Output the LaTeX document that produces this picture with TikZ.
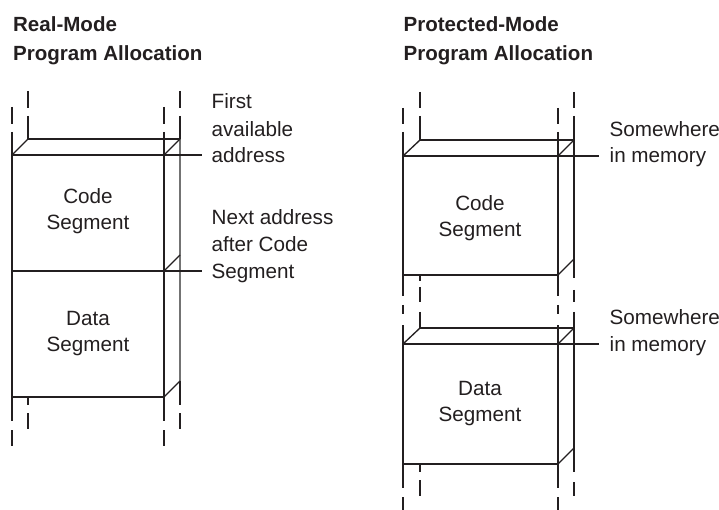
\documentclass[tikz,border=0pt]{standalone}
\usepackage{fontspec}
\setmainfont{Liberation Sans}
\definecolor{ink}{RGB}{35,31,32}

\begin{document}
\begin{tikzpicture}[x=0.75pt,y=0.75pt,yscale=-1,xscale=1,color=ink,line width=1pt,
  lbl/.style={font=\fontsize{15.5}{20.25}\selectfont,inner sep=0pt,align=left,anchor=base west},
  ttl/.style={font=\bfseries\fontsize{15.4}{21.75}\selectfont,inner sep=0pt,align=left,anchor=base west},
  seglbl/.style={font=\fontsize{15.5}{19.5}\selectfont,inner sep=0pt,align=center},
  faint/.style={draw=black!55}]
\useasboundingbox (0,0) rectangle (719,510);

% Titles
\draw (12.5,61) node [ttl] (realttl) {Real-Mode\\Program Allocation};
\draw (403,61) node [ttl] (protttl) {Protected-Mode\\Program Allocation};

% Text Node
\draw (211,163) node [lbl] (firstlbl) {First\\available\\address};
\coordinate (lead1) at (202,155);
% Text Node
\draw (211,278) node [lbl] (nextlbl) {Next address\\after Code\\Segment};
\coordinate (lead2) at (202,271);
% Text Node
\draw (609,163) node [lbl] (somelbl1) {Somewhere\\in memory};
\coordinate (lead3) at (599,156);
% Text Node
\draw (609,351) node [lbl] (somelbl2) {Somewhere\\in memory};
\coordinate (lead4) at (599,344);

% Text Node
\draw (88,211) node [seglbl] (realcode) {Code\\Segment};
\draw (88,334) node [seglbl] (realdata) {Data\\Segment};
\draw (480,218) node [seglbl] (protcode) {Code\\Segment};
\draw (480,404) node [seglbl] (protdata) {Data\\Segment};

%Real mode: front verticals
\draw (12,107) -- (12,124);
\draw (12,132) -- (12,421);
\draw (12,430) -- (12,446);
\draw (164,107) -- (164,124);
\draw (164,132) -- (164,421);
\draw (164,430) -- (164,446);
%Real mode: back left
\draw (28,91) -- (28,108);
\draw (28,116) -- (28,139);
\draw (28,397) -- (28,405);
\draw (28,413) -- (28,429);
%Real mode: back right
\draw (180,91) -- (180,108);
\draw (180,116) -- (180,139);
\draw [faint] (180,139) -- (180,381);
\draw (180,381) -- (180,405);
\draw (180,413) -- (180,429);
%Real mode: top
\draw (28,139) -- (180,139);
\draw (12,155) -- (28,139);
\draw (164,155) -- (180,139);
\draw (12,155) -- (lead1);
%Real mode: code / data boundary
\draw (12,271) -- (lead2);
\draw (164,271) -- (180,255);
%Real mode: bottom
\draw (12,397) -- (164,397);
\draw (164,397) -- (180,381);

%Protected mode: front verticals
\draw (403,108) -- (403,124);
\draw (403,132) -- (403,296);
\draw (403,305) -- (403,314);
\draw (403,325) -- (403,488);
\draw (403,497) -- (403,512);
\draw (558,108) -- (558,124);
\draw (558,132) -- (558,296);
\draw (558,305) -- (558,314);
\draw (558,325) -- (558,488);
\draw (558,497) -- (558,512);
%Protected mode: back left
\draw (420,92) -- (420,108);
\draw (420,116) -- (420,140);
\draw (420,276) -- (420,281);
\draw (420,287) -- (420,302);
\draw (420,312) -- (420,328);
\draw (420,464) -- (420,472);
\draw (420,480) -- (420,496);
%Protected mode: back right
\draw (574,92) -- (574,108);
\draw (574,116) -- (574,278);
\draw (574,290) -- (574,302);
\draw (574,312) -- (574,472);
\draw (574,482) -- (574,496);
%Protected mode: code segment
\draw (420,140) -- (574,140);
\draw (403,156) -- (420,140);
\draw (558,156) -- (574,140);
\draw (403,156) -- (lead3);
\draw (403,275) -- (558,275);
\draw (558,275) -- (574,259);
%Protected mode: data segment
\draw (420,328) -- (574,328);
\draw (403,344) -- (420,328);
\draw (558,344) -- (574,328);
\draw (403,344) -- (lead4);
\draw (403,464) -- (558,464);
\draw (558,464) -- (574,448);

\end{tikzpicture}
\end{document}
